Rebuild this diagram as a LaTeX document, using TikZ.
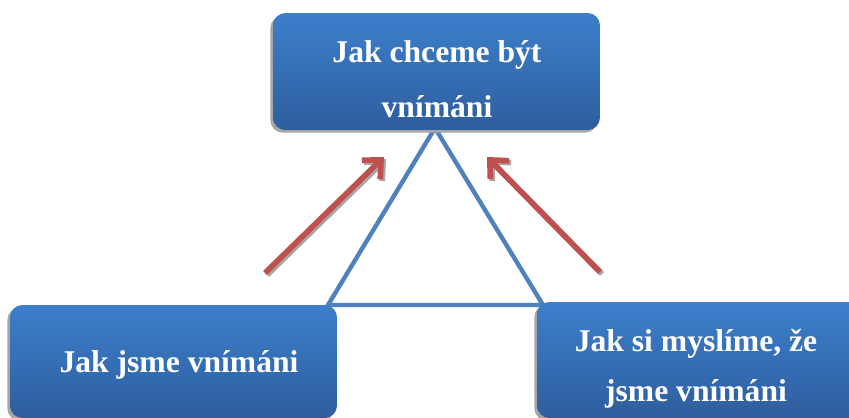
\documentclass[tikz,border=0pt]{standalone}
\usepackage{fontspec}
\setmainfont{Liberation Serif}
\usetikzlibrary{arrows.meta,shadows}

\definecolor{boxtop}{RGB}{60,127,204}
\definecolor{boxbottom}{RGB}{46,94,158}
\definecolor{triblue}{RGB}{79,129,189}
\definecolor{arrowred}{RGB}{192,80,77}

\begin{document}
\begin{tikzpicture}[
        x=0.02cm, y=-0.02cm,
        viewbox/.style={
            rectangle,
            rounded corners=7pt,
            top color=boxtop,
            bottom color=boxbottom,
            draw=none,
            drop shadow={shadow xshift=-1.5pt, shadow yshift=-1.5pt, fill=black!35, opacity=1},
            minimum width=6.54cm
        },
        viewtext/.style={
            text=white,
            align=center,
            inner sep=0pt,
            font=\fontsize{18}{31}\selectfont\bfseries
        },
        triangleline/.style={
            draw=triblue,
            line width=2.5pt,
            line join=miter
        },
        pointer/.style={
            -{Straight Barb[length=8pt,width=15pt]},
            draw=arrowred,
            line width=3.2pt
        },
        pointershadow/.style={
            -{Straight Barb[length=8pt,width=15pt]},
            draw=black!35,
            line width=3.2pt
        }
    ]
        \useasboundingbox (0,0) rectangle (849,418);

        % Triangle
        \coordinate (apex) at (435,128);
        \coordinate (baseleft) at (328,305);
        \coordinate (baseright) at (543,305);
        \draw[triangleline] (baseleft) -- (apex) -- (baseright) -- cycle;

        % Boxes
        \node[viewbox, minimum height=2.34cm] (wish) at (436.5,71.5) {};
        \node[viewbox, minimum height=2.26cm] (real) at (173.5,361.5) {};
        \node[viewbox, minimum height=2.32cm] (think) at (700.5,360) {};

        % Texts
        \node[viewtext] (wishtext) at (437,79) {Jak chceme být\\vnímáni};
        \node[viewtext, anchor=base] (realtext) at (179,373) {Jak jsme vnímáni};
        \node[viewtext, font=\fontsize{18}{28.5}\selectfont\bfseries] (thinktext) at (696,369) {Jak si myslíme, že\\jsme vnímáni};

        % Arrows
        \coordinate (lefttail) at (265,273);
        \coordinate (lefthead) at (384,157);
        \coordinate (righttail) at (600,272);
        \coordinate (righthead) at (487,157);
        \draw[pointershadow] ([shift={(2,2)}]lefttail) -- ([shift={(2,2)}]lefthead);
        \draw[pointershadow] ([shift={(2,2)}]righttail) -- ([shift={(2,2)}]righthead);
        \draw[pointer] (lefttail) -- (lefthead);
        \draw[pointer] (righttail) -- (righthead);
    \end{tikzpicture}
\end{document}
